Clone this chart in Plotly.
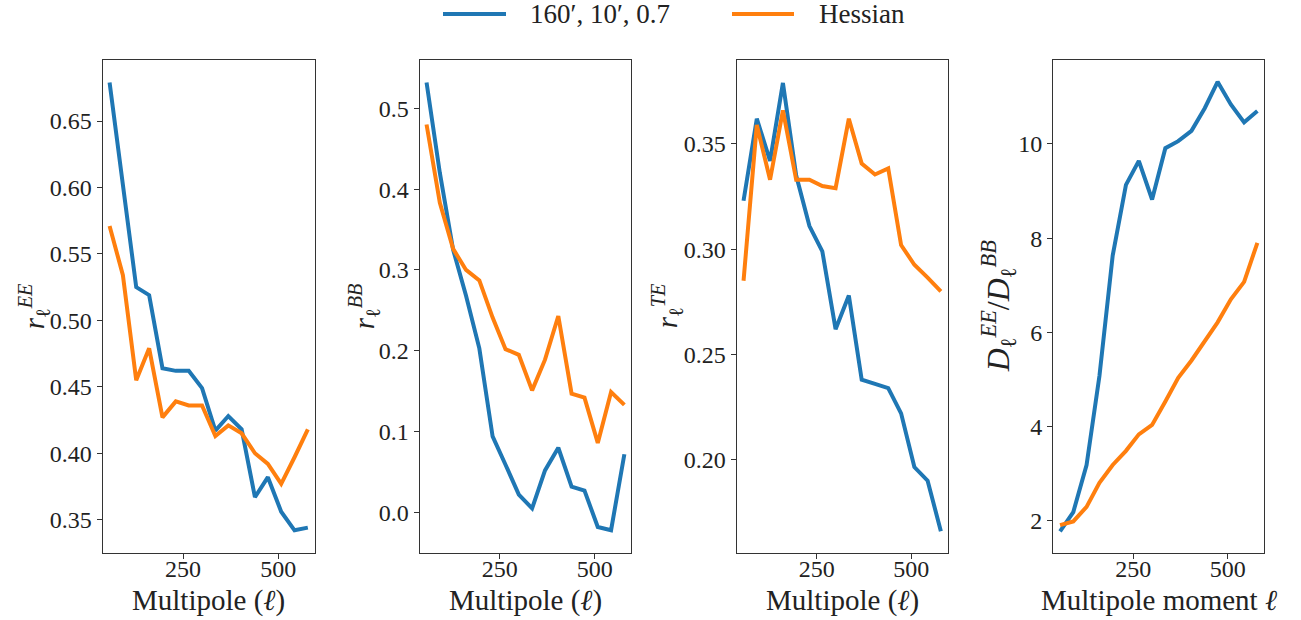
import plotly.graph_objects as go

W, H = 1301, 620

ell = [57, 92, 127, 161, 196, 231, 265, 300, 335, 369, 404, 439, 473, 508, 543, 578]

ee_blue = [0.679, 0.603, 0.525, 0.519, 0.464, 0.462, 0.462, 0.449, 0.417, 0.428, 0.418, 0.367, 0.382, 0.356, 0.342, 0.344]
ee_orange = [0.571, 0.534, 0.455, 0.479, 0.427, 0.439, 0.436, 0.436, 0.413, 0.421, 0.415, 0.400, 0.392, 0.377, 0.397, 0.418]

bb_blue = [0.532, 0.420, 0.325, 0.268, 0.203, 0.094, 0.059, 0.022, 0.005, 0.052, 0.080, 0.032, 0.027, -0.018, -0.022, 0.072]
bb_orange = [0.480, 0.383, 0.326, 0.300, 0.287, 0.241, 0.202, 0.195, 0.151, 0.189, 0.243, 0.147, 0.142, 0.086, 0.149, 0.133]

te_blue = [0.323, 0.362, 0.342, 0.379, 0.335, 0.311, 0.299, 0.262, 0.278, 0.238, 0.236, 0.234, 0.222, 0.1965, 0.190, 0.166]
te_orange = [0.285, 0.359, 0.333, 0.366, 0.333, 0.333, 0.330, 0.329, 0.362, 0.3407, 0.3355, 0.3384, 0.302, 0.2926, 0.2865, 0.280]

ratio_blue = [1.77, 2.18, 3.18, 5.07, 7.63, 9.13, 9.64, 8.82, 9.91, 10.06, 10.28, 10.76, 11.32, 10.84, 10.46, 10.70]
ratio_orange = [1.90, 1.98, 2.29, 2.80, 3.18, 3.48, 3.83, 4.03, 4.53, 5.03, 5.40, 5.81, 6.21, 6.70, 7.07, 7.90]

series_names = ["160′, 10′, 0.7", "Hessian"]
colors = ["#1f77b4", "#ff7f0e"]

x_ticks = [250, 500]
x_range = [38.4, 595.5]

panels = [
    dict(blue=ee_blue, orange=ee_orange, yr=[0.3253, 0.6958],
         yt=[0.35, 0.40, 0.45, 0.50, 0.55, 0.60, 0.65], fmt=".2f",
         ytitle="<i>r</i><sub>ℓ</sub><sup><i>EE</i></sup>", xtitle="Multipole (<i>ℓ</i>)",
         px=(102.5, 314.5), tx=34, ts=29),
    dict(blue=bb_blue, orange=bb_orange, yr=[-0.0496, 0.5595],
         yt=[0.0, 0.1, 0.2, 0.3, 0.4, 0.5], fmt=".1f",
         ytitle="<i>r</i><sub>ℓ</sub><sup><i>BB</i></sup>", xtitle="Multipole (<i>ℓ</i>)",
         px=(419.5, 631.0), tx=364, ts=29),
    dict(blue=te_blue, orange=te_orange, yr=[0.1559, 0.3898],
         yt=[0.20, 0.25, 0.30, 0.35], fmt=".2f",
         ytitle="<i>r</i><sub>ℓ</sub><sup><i>TE</i></sup>", xtitle="Multipole (<i>ℓ</i>)",
         px=(736.5, 947.5), tx=667, ts=29),
    dict(blue=ratio_blue, orange=ratio_orange, yr=[1.32, 11.78],
         yt=[2, 4, 6, 8, 10], fmt="d",
         ytitle="<i>D</i><sub>ℓ</sub><sup><i>EE</i></sup>/<i>D</i><sub>ℓ</sub><sup><i>BB</i></sup>",
         xtitle="Multipole moment <i>ℓ</i>",
         px=(1053.0, 1264.0), tx=998, ts=32),
]

FONT = "Liberation Serif"
top_px, bot_px = 60.2, 552.5
ydom = [(H - bot_px) / H, (H - top_px) / H]

fig = go.Figure()
layout = dict(
    width=W, height=H, margin=dict(l=0, r=0, t=0, b=0),
    paper_bgcolor="white", plot_bgcolor="white", showlegend=False,
    font=dict(family=FONT, size=24, color="black"),
)
annotations = []
shapes = []

for i, p in enumerate(panels):
    n = "" if i == 0 else str(i + 1)
    xa, ya = "x" + n, "y" + n
    for vals, col, nm in [(p["blue"], colors[0], series_names[0]), (p["orange"], colors[1], series_names[1])]:
        fig.add_trace(go.Scatter(x=ell, y=vals, mode="lines", name=nm,
                                 line=dict(color=col, width=4), xaxis=xa, yaxis=ya))
    axis_common = dict(showline=True, mirror=True, linecolor="#333333", linewidth=1,
                       ticks="outside", ticklen=5, tickwidth=1, tickcolor="#333333",
                       showgrid=False, zeroline=False,
                       tickfont=dict(family=FONT, size=24, color="#222222"))
    layout["xaxis" + n] = dict(domain=[p["px"][0] / W, p["px"][1] / W], range=x_range,
                               tickvals=x_ticks, anchor=ya, ticklabelstandoff=-10, **axis_common)
    layout["yaxis" + n] = dict(domain=ydom, range=p["yr"], tickvals=p["yt"],
                               tickformat=p["fmt"], anchor=xa, **axis_common)
    annotations.append(dict(xref="paper", yref="paper", x=(p["px"][0] + p["px"][1]) / 2 / W,
                            y=(H - 600) / H, text=p["xtitle"], showarrow=False,
                            xanchor="center", yanchor="middle",
                            font=dict(family=FONT, size=29, color="#222222")))
    annotations.append(dict(xref="paper", yref="paper", x=p["tx"] / W,
                            y=(H - (top_px + bot_px) / 2) / H, text=p["ytitle"], showarrow=False,
                            textangle=-90, xanchor="center", yanchor="middle",
                            font=dict(family=FONT, size=p["ts"], color="#222222")))

# legend (drawn manually)
leg_y = (H - 14) / H
for (x0, x1, tx), nm, col in zip([(443, 506, 528), (732, 794, 817)], series_names, colors):
    shapes.append(dict(type="line", xref="paper", yref="paper", x0=x0 / W, x1=x1 / W,
                       y0=leg_y, y1=leg_y, line=dict(color=col, width=4)))
    annotations.append(dict(xref="paper", yref="paper", x=tx / W, y=leg_y, text=nm,
                            showarrow=False, xanchor="left", yanchor="middle",
                            font=dict(family=FONT, size=27, color="#222222")))

layout["annotations"] = annotations
layout["shapes"] = shapes
fig.update_layout(**layout)
fig.write_html("out.html", config={"displayModeBar": False},
               post_script="document.body.style.margin='0';document.body.style.overflow='hidden';")
